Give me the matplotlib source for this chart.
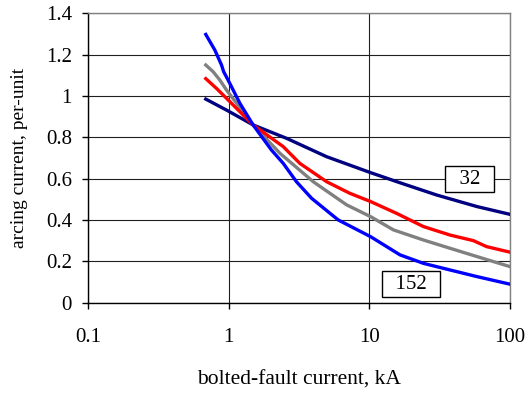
import numpy as np
import matplotlib
matplotlib.use("Agg")
import matplotlib.pyplot as plt
from matplotlib.ticker import FixedLocator, FixedFormatter, NullLocator

plt.rcParams['font.family'] = ['Liberation Serif', 'DejaVu Serif']

# arcing current (per-unit) vs bolted-fault current (kA), four gap cases
x_32 = [0.687, 0.964, 1.49, 2.58, 4.97, 10.2, 16.5, 30, 58, 100]
y_32 = [0.985, 0.932, 0.86, 0.795, 0.706, 0.629, 0.58, 0.521, 0.465, 0.427]

x_red = [0.687, 0.818, 0.964, 1.49, 2.44, 3.2, 4.97, 7.26, 10.2, 15.6, 24.2, 37.4, 54.8, 68, 100]
y_red = [1.084, 1.037, 0.989, 0.86, 0.755, 0.674, 0.585, 0.529, 0.489, 0.432, 0.368, 0.327, 0.30, 0.271, 0.244]

x_gray = [0.687, 0.774, 0.865, 0.964, 1.49, 2.31, 3.99, 6.89, 10.2, 14.8, 24.2, 37.4, 58, 100]
y_gray = [1.15, 1.118, 1.077, 1.029, 0.86, 0.723, 0.585, 0.473, 0.416, 0.352, 0.303, 0.263, 0.223, 0.174]

x_152 = [0.687, 0.796, 0.889, 0.92, 0.99, 1.2, 1.49, 2.01, 2.44, 3.03, 3.88, 6.0, 10.2, 16.5, 24.2, 37.4, 58, 100]
y_152 = [1.298, 1.223, 1.15, 1.118, 1.077, 0.965, 0.86, 0.739, 0.674, 0.585, 0.505, 0.40, 0.319, 0.231, 0.19, 0.158, 0.126, 0.089]

x_ticks = [0.1, 1, 10, 100]
x_ticklabels = ["0.1", "1", "10", "100"]
y_ticks = [0, 0.2, 0.4, 0.6, 0.8, 1.0, 1.2, 1.4]
y_ticklabels = ["0", "0.2", "0.4", "0.6", "0.8", "1", "1.2", "1.4"]

fig = plt.figure(figsize=(5.27, 3.93), dpi=100)
ax = fig.add_axes([0.167, 0.23, 0.801, 0.736])

ax.set_xscale("log")
ax.set_xlim(0.1, 100)
ax.set_ylim(0, 1.4)

lw = 2.4
ax.plot(x_32, y_32, color="#000080", lw=lw, zorder=3)
ax.plot(x_gray, y_gray, color="#808080", lw=lw, zorder=3)
ax.plot(x_red, y_red, color="#ff0000", lw=lw, zorder=3)
ax.plot(x_152, y_152, color="#0000ff", lw=lw, zorder=4)

ax.xaxis.set_major_locator(FixedLocator(x_ticks))
ax.xaxis.set_major_formatter(FixedFormatter(x_ticklabels))
ax.xaxis.set_minor_locator(NullLocator())
ax.set_yticks(y_ticks)
ax.set_yticklabels(y_ticklabels)
ax.tick_params(axis="both", labelsize=15, direction="out", length=4.5,
               width=1, color="black")
ax.tick_params(axis="x", pad=14)
ax.tick_params(axis="y", pad=7)

ax.grid(True, which="major", color="#202020", lw=0.8)
ax.set_axisbelow(True)

for side in ("top", "right"):
    ax.spines[side].set_color("#808080")
    ax.spines[side].set_linewidth(1)
for side in ("left", "bottom"):
    ax.spines[side].set_color("black")
    ax.spines[side].set_linewidth(1)

ax.set_xlabel("bolted-fault current, kA", fontsize=15.5, labelpad=17)
ax.set_ylabel("arcing current, per-unit", fontsize=14, labelpad=13)

box = dict(boxstyle="square,pad=0.15", fc="white", ec="black", lw=1)
ax.text(51.4, 0.598, "  32  ", fontsize=15, ha="center", va="center", bbox=box, zorder=5)
ax.text(19.7, 0.09, "  152  ", fontsize=15, ha="center", va="center", bbox=box, zorder=5)

fig.savefig("out.png", dpi=100)
